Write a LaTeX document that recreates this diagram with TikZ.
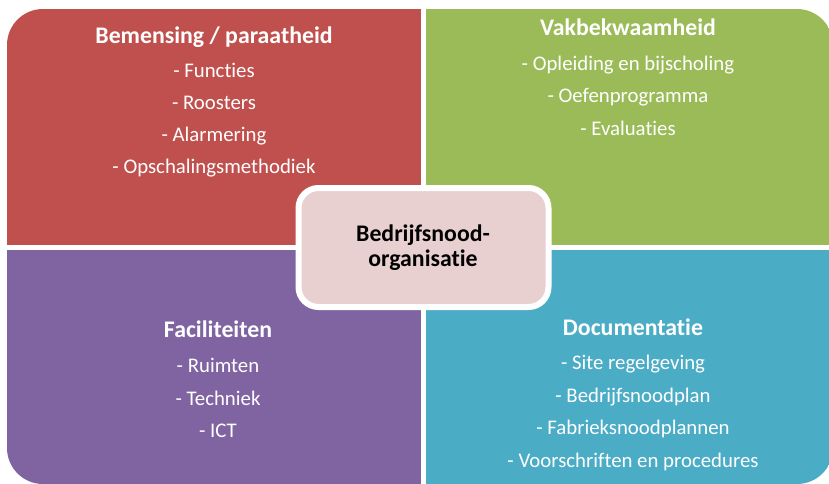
\documentclass[tikz,border=0pt]{standalone}
\usepackage{fontspec}
\setmainfont{Carlito}[Ligatures={NoCommon,NoRare,NoContextual},RawFeature={-ccmp}]
\usepackage{tikz}
\usetikzlibrary{calc}
\usepackage{xcolor}

\definecolor{bemred}{HTML}{C0504D}
\definecolor{vakgreen}{HTML}{9BBB59}
\definecolor{facpurple}{HTML}{8064A2}
\definecolor{docblue}{HTML}{4BACC6}
\definecolor{kernpink}{HTML}{E8D0D1}

\tikzset{
  kop/.style={anchor=base, text=white, font=\bfseries\fontsize{23.8}{28}\selectfont},
  punt/.style={anchor=base, text=white, font=\fontsize{20.8}{25}\selectfont},
  kern/.style={draw=white, line width=6pt, fill=kernpink, rounded corners=20pt,
    minimum width=250pt, minimum height=119pt},
}

\begin{document}
\begin{tikzpicture}[x=1pt,y=-1pt]
\useasboundingbox (0,0) rectangle (829,483);
\fill[white] (0,0) rectangle (829,483);
% \draw[lightgray] (0,0) grid[step=50] (829,483);

\coordinate (M) at (423.5,247.5);

\begin{scope}
\clip[rounded corners=36pt] (7,9) rectangle (833,484);
\fill[bemred] (7,9) rectangle (421,245);
\fill[vakgreen] (426,9) rectangle (833,245);
\fill[facpurple] (7,250) rectangle (421,484);
\fill[docblue] (426,250) rectangle (833,484);
\end{scope}

\node[kop] (bem) at (214,43) {Bemensing / paraatheid};
\foreach \txt [count=\i] in {Functies, Roosters, Alarmering, Opschalingsmethodiek}
  \node[punt] (bem\i) at (214,{77+32.3*(\i-1)}) {- \txt};

\node[kop] (vak) at (628,35) {Vakbekwaamheid};
\foreach \txt [count=\i] in {Opleiding en bijscholing, Oefenprogramma, Evaluaties}
  \node[punt] (vak\i) at (628,{70.7+32.2*(\i-1)}) {- \txt};

\node[kop] (fac) at (218,337) {Faciliteiten};
\foreach \txt [count=\i] in {Ruimten, Techniek, ICT}
  \node[punt] (fac\i) at (218,{372.7+32.3*(\i-1)}) {- \txt};

\node[kop] (doc) at (633,335) {Documentatie};
\foreach \txt [count=\i] in {Site regelgeving, Bedrijfsnoodplan, Fabrieksnoodplannen, Voorschriften en procedures}
  \node[punt] (doc\i) at (633,{369.3+32.7*(\i-1)}) {- \txt};

\node[kern] (kernbox) at (M) {};
\node[anchor=base, font=\bfseries\fontsize{23.8}{28}\selectfont] (kern1) at (423,241) {Bedrijfsnood-};
\node[anchor=base, font=\bfseries\fontsize{23.8}{28}\selectfont] (kern2) at (423,266) {organisatie};

\end{tikzpicture}
\end{document}
